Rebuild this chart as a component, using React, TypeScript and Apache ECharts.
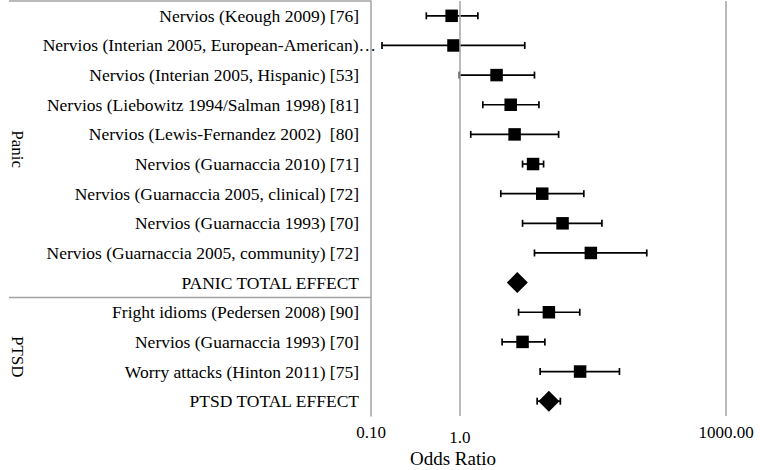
import React, { useEffect, useRef } from "react";
import * as echarts from "echarts";

const STUDY_LABELS = [
  "Nervios (Keough 2009) [76]",
  "Nervios (Interian 2005, European-American)…",
  "Nervios (Interian 2005, Hispanic) [53]",
  "Nervios (Liebowitz 1994/Salman 1998) [81]",
  "Nervios (Lewis-Fernandez 2002)  [80]",
  "Nervios (Guarnaccia 2010) [71]",
  "Nervios (Guarnaccia 2005, clinical) [72]",
  "Nervios (Guarnaccia 1993) [70]",
  "Nervios (Guarnaccia 2005, community) [72]",
  "PANIC TOTAL EFFECT",
  "Fright idioms (Pedersen 2008) [90]",
  "Nervios (Guarnaccia 1993) [70]",
  "Worry attacks (Hinton 2011) [75]",
  "PTSD TOTAL EFFECT",
];
const ODDS_RATIO = [0.81, 0.85, 2.6, 3.75, 4.15, 6.7, 8.5, 14.4, 30, 4.45, 10.1, 5.1, 22.7, 10.1];
const CI_LOW: (number | null)[] = [0.42, 0.133, 0.99, 1.82, 1.33, 5.1, 2.9, 5.1, 6.95, null, 4.6, 3.0, 8.05, 7.45];
const CI_HIGH: (number | null)[] = [1.6, 5.4, 6.95, 7.8, 13, 8.8, 25, 40, 128, null, 22.5, 9.1, 63, 13.6];
const IS_TOTAL = [false, false, false, false, false, false, false, false, false, true, false, false, false, true];
const GROUP_NAMES = ["Panic", "PTSD"];
const GROUP_SIZES = [10, 4];
const TICK_VALUES = [0.1, 1, 1000];
const TICK_LABELS = ["0.10", "1.0", "1000.00"];
const REF_LINES = [1, 1000];

const FONT = "Liberation Serif";
const GRAY = "#a3a3a3";

export default function App() {
  const ref = useRef<HTMLDivElement>(null);
  useEffect(() => {
    if (!ref.current) return;
    const chart = echarts.init(ref.current, undefined, { renderer: "svg" });

    const ciData = STUDY_LABELS.map((_, i) => [i, CI_LOW[i], CI_HIGH[i]]).filter(
      (d) => d[1] != null && d[2] != null
    );
    const squareData = STUDY_LABELS.map((_, i) => [ODDS_RATIO[i], i]).filter((_, i) => !IS_TOTAL[i]);
    const diamondData = STUDY_LABELS.map((_, i) => [ODDS_RATIO[i], i]).filter((_, i) => IS_TOTAL[i]);

    const yData = STUDY_LABELS.map((s) =>
      s.endsWith("…") ? { value: s, textStyle: { padding: [0, -17, 0, 0] } } : s
    );

    const option: any = {
      animation: false,
      textStyle: { fontFamily: FONT },
      grid: { left: 371, right: 34, top: 1, bottom: 54, containLabel: false },
      xAxis: {
        type: "log",
        logBase: 10,
        min: 0.1,
        max: 1000,
        axisLine: { show: false },
        axisTick: { show: false },
        splitLine: { show: false },
        axisLabel: {
          margin: 8,
          fontFamily: FONT,
          fontSize: 17,
          color: "#000",
          formatter: (v: number) => {
            const i = TICK_VALUES.findIndex((t) => Math.abs(Math.log10(t) - Math.log10(v)) < 1e-6);
            if (i < 0) return "";
            return TICK_VALUES[i] === 1 ? `{lo|${TICK_LABELS[i]}}` : TICK_LABELS[i];
          },
          rich: {
            lo: { fontFamily: FONT, fontSize: 17, color: "#000", padding: [5, 0, 0, 0] },
          },
        },
      },
      yAxis: {
        type: "category",
        inverse: true,
        data: yData,
        axisLine: { show: true, lineStyle: { color: GRAY, width: 1.5 } },
        axisTick: { show: false },
        splitLine: { show: false },
        axisLabel: {
          margin: 12,
          fontFamily: FONT,
          fontSize: 17.5,
          color: "#000",
          interval: 0,
        },
      },
      series: [
        {
          type: "custom",
          data: ciData,
          encode: { x: [1, 2], y: 0 },
          renderItem: (params: any, api: any) => {
            const idx = api.value(0);
            const p1 = api.coord([api.value(1), idx]);
            const p2 = api.coord([api.value(2), idx]);
            const h = 3.5;
            const st = { stroke: "#000", lineWidth: 1.7 };
            return {
              type: "group",
              children: [
                { type: "line", shape: { x1: p1[0], y1: p1[1], x2: p2[0], y2: p2[1] }, style: st },
                { type: "line", shape: { x1: p1[0], y1: p1[1] - h, x2: p1[0], y2: p1[1] + h }, style: st },
                { type: "line", shape: { x1: p2[0], y1: p2[1] - h, x2: p2[0], y2: p2[1] + h }, style: st },
              ],
            };
          },
          markLine: {
            silent: true,
            symbol: ["none", "none"],
            label: { show: false },
            lineStyle: { color: GRAY, type: "solid", width: 1.5 },
            data: REF_LINES.map((v) => ({ xAxis: v })),
          },
          z: 2,
        },
        {
          type: "scatter",
          data: squareData,
          symbol: "rect",
          symbolSize: 12.5,
          itemStyle: { color: "#000", opacity: 1 },
          z: 3,
        },
        {
          type: "scatter",
          data: diamondData,
          symbol: "diamond",
          symbolSize: [21, 21],
          itemStyle: { color: "#000", opacity: 1 },
          z: 3,
        },
      ],
    };
    chart.setOption(option);

    const c0 = chart.convertToPixel({ yAxisIndex: 0 }, 0) as number;
    const c1 = chart.convertToPixel({ yAxisIndex: 0 }, 1) as number;
    const band = c1 - c0;
    const gridLeft = chart.convertToPixel({ xAxisIndex: 0 }, 0.1) as number;
    const graphics: any[] = [];
    let start = 0;
    GROUP_NAMES.forEach((name, g) => {
      const yTop = (chart.convertToPixel({ yAxisIndex: 0 }, start) as number) - band / 2;
      const yBot = yTop + band * GROUP_SIZES[g];
      graphics.push({
        type: "line",
        shape: { x1: 9, y1: Math.max(yTop, 0.75), x2: gridLeft, y2: Math.max(yTop, 0.75) },
        style: { stroke: GRAY, lineWidth: 1.5 },
      });
      graphics.push({
        type: "text",
        x: 17,
        y: (yTop + yBot) / 2,
        rotation: -Math.PI / 2,
        style: {
          text: name,
          fontFamily: FONT,
          fontSize: 17,
          fill: "#000",
          textAlign: "center",
          textVerticalAlign: "middle",
        },
      });
      start += GROUP_SIZES[g];
    });
    graphics.push({
      type: "text",
      x: 453,
      y: 458,
      style: {
        text: "Odds Ratio",
        fontFamily: FONT,
        fontSize: 19,
        fill: "#000",
        textAlign: "center",
        textVerticalAlign: "middle",
      },
    });
    chart.setOption({ graphic: graphics });

    return () => chart.dispose();
  }, []);
  return (
    <div
      ref={ref}
      style={{ position: "fixed", left: 0, top: 0, width: 760, height: 470, background: "#fff" }}
    />
  );
}
